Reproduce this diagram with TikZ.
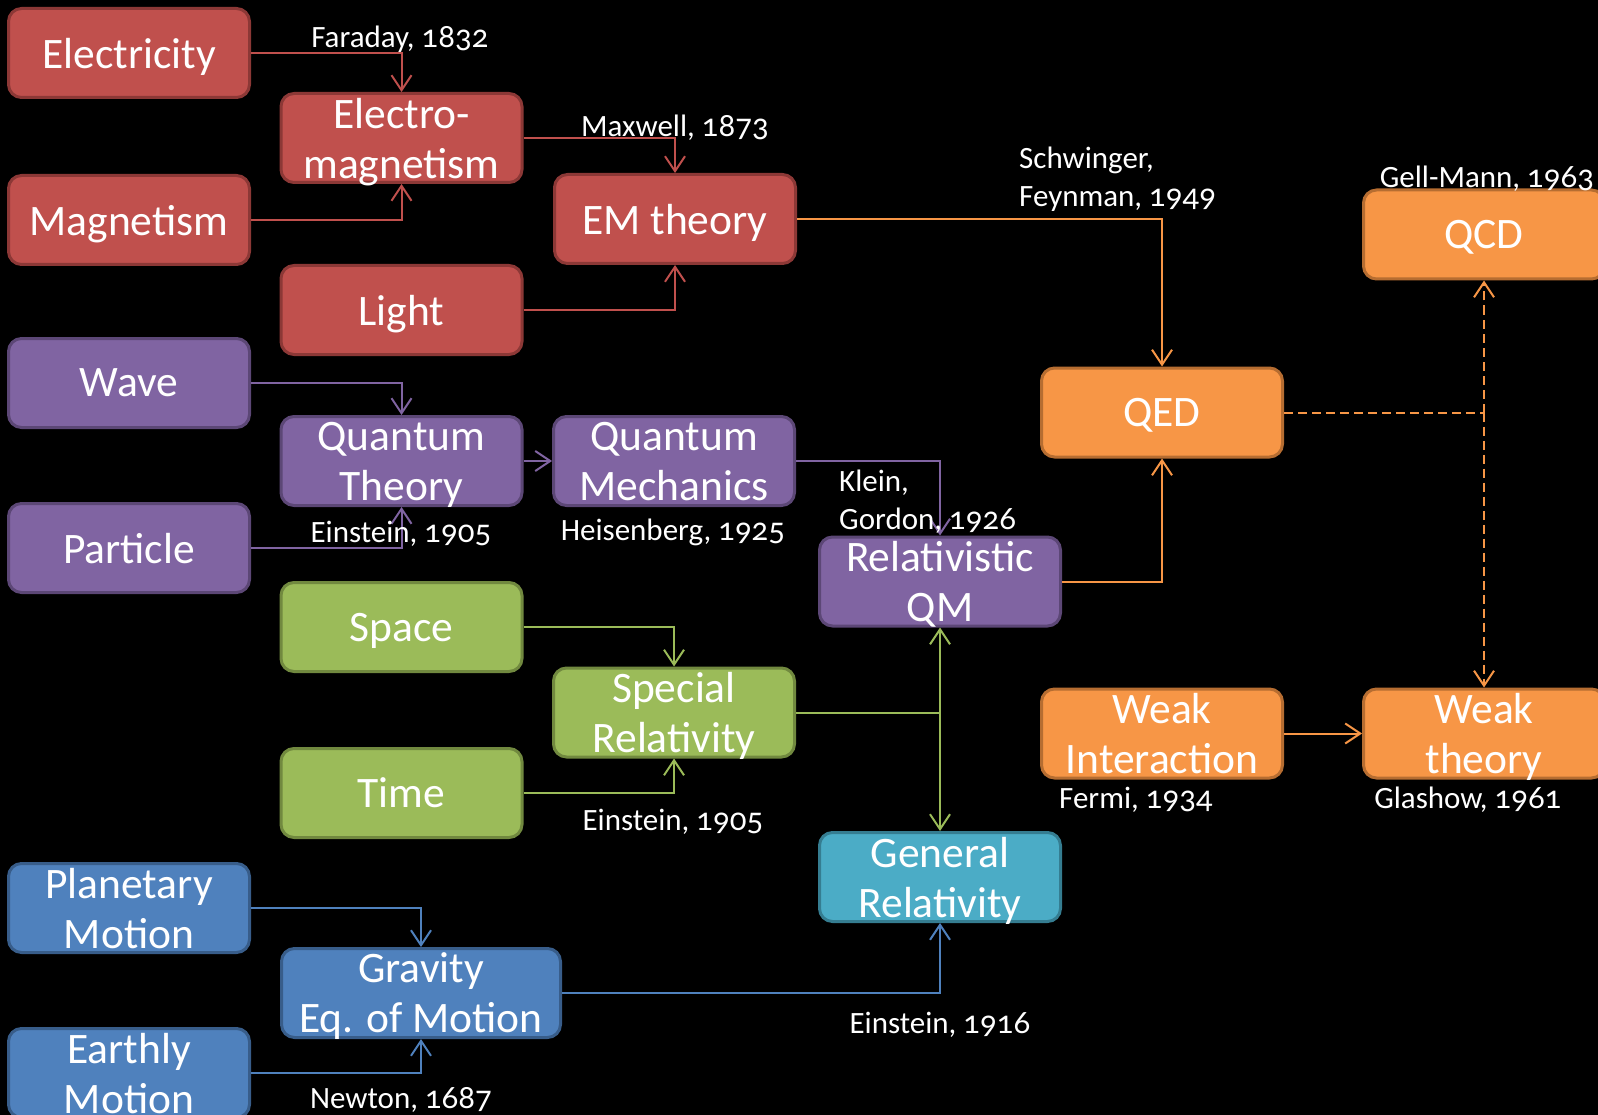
\documentclass[tikz,border=0pt]{standalone}
\usepackage{fontspec}
\setmainfont{Carlito}[Numbers=OldStyle]
\newfontfamily\numfont{Lato}[Numbers=OldStyle]
\newcommand{\yr}[1]{{\numfont #1}}
\usetikzlibrary{arrows.meta}
\definecolor{redF}{HTML}{C0504D}\definecolor{redD}{HTML}{8C3836}
\definecolor{purF}{HTML}{8064A2}\definecolor{purD}{HTML}{5C4776}
\definecolor{grnF}{HTML}{9BBB59}\definecolor{grnD}{HTML}{71893F}
\definecolor{tealF}{HTML}{4BACC6}\definecolor{tealD}{HTML}{357D91}
\definecolor{bluF}{HTML}{4F81BD}\definecolor{bluD}{HTML}{385D8A}
\definecolor{orgF}{HTML}{F79646}\definecolor{orgD}{HTML}{B66D31}
\tikzset{
  box/.style={rounded corners=13pt, line width=3pt, minimum width=241pt, minimum height=89pt,
    inner sep=0pt, text=white, align=center, font=\fontsize{43.5}{50}\selectfont, text depth=0pt},
  redbox/.style={box, fill=redF, draw=redD},
  purbox/.style={box, fill=purF, draw=purD},
  grnbox/.style={box, fill=grnF, draw=grnD},
  tealbox/.style={box, fill=tealF, draw=tealD},
  blubox/.style={box, fill=bluF, draw=bluD},
  orgbox/.style={box, fill=orgF, draw=orgD},
  conn/.style={line width=2pt, -{Straight Barb[length=15pt,width=20pt]}},
  plain/.style={line width=2pt},
  lbl/.style={text=white, font=\fontsize{31}{38}\selectfont, inner sep=0pt, text depth=0pt, align=left},
}
\begin{document}
\begin{tikzpicture}[x=1pt,y=-1pt]
\fill[black] (0,0) rectangle (1598,1115);
\useasboundingbox (0,0) rectangle (1598,1115);
\clip (0,0) rectangle (1598,1115);

% boxes
\node[redbox] (elec) at (129,53) {Electricity};
\node[redbox] (magn) at (129,220) {Magnetism};
\node[redbox] (emag) at (401.5,138) {Electro-\\magnetism};
\node[redbox] (light) at (401.5,310) {Light};
\node[redbox] (emth) at (675,219) {EM theory};
\node[purbox] (wave) at (129,383) {Wave};
\node[purbox] (qt) at (401.5,461) {Quantum\\Theory};
\node[purbox] (qm) at (674,461) {Quantum\\Mechanics};
\node[purbox] (part) at (129,548) {Particle};
\node[purbox] (relqm) at (940,581.5) {Relativistic\\QM};
\node[grnbox] (space) at (401.5,627) {Space};
\node[grnbox] (sr) at (674,712.5) {Special\\Relativity};
\node[grnbox] (time) at (401.5,793) {Time};
\node[tealbox] (gr) at (940,877) {General\\Relativity};
\node[blubox] (plan) at (129,908) {Planetary\\Motion};
\node[blubox, minimum width=279pt] (grav) at (421,993) {Gravity\\Eq. of Motion};
\node[blubox] (earth) at (129,1073) {Earthly\\Motion};
\node[orgbox] (qed) at (1162,412.5) {QED};
\node[orgbox] (qcd) at (1484,234.5) {QCD};
\node[orgbox] (wi) at (1162,733.5) {Weak\\Interaction};
\node[orgbox] (wt) at (1484,733.5) {Weak\\theory};

% connectors
\draw[conn, redF] (elec.east) -| (emag.north);
\draw[conn, redF] (magn.east) -| (emag.south);
\draw[conn, redF] (emag.east) -| (emth.north);
\draw[conn, redF] (light.east) -| (emth.south);
\draw[conn, orgF] (emth.east) -| (qed.north);
\draw[conn, purF] (wave.east) -| (qt.north);
\draw[conn, purF] (part.east) -| (qt.south);
\draw[conn, purF] (qt.east) -- (qm.west);
\draw[conn, purF] (qm.east) -| (relqm.north);
\draw[conn, orgF] (relqm.east) -| (qed.south);
\draw[conn, grnF] (space.east) -| (sr.north);
\draw[conn, grnF] (time.east) -| (sr.south);
\coordinate (jsr) at (relqm.south |- sr.east);
\draw[plain, grnF] (sr.east) -- (jsr);
\draw[conn, grnF] (jsr) -- (relqm.south);
\draw[conn, grnF] (jsr) -- (gr.north);
\draw[conn, bluF] (plan.east) -| (grav.north);
\draw[conn, bluF] (earth.east) -| (grav.south);
\draw[conn, bluF] (grav.east) -| (gr.south);
\draw[conn, orgF] (wi.east) -- (wt.west);
\coordinate (jq) at (qcd.south |- qed.east);
\draw[plain, orgF, dash pattern=on 9pt off 5pt] (qed.east) -- (jq);
\draw[conn, orgF, dash pattern=on 9pt off 5pt] (jq) -- (qcd.south);
\draw[conn, orgF, dash pattern=on 9pt off 5pt] (jq) -- (wt.north);

% labels
\node[lbl] (lfar) at (400,37) {Faraday, \yr{1832}};
\node[lbl] (lmax) at (675,126) {Maxwell, \yr{1873}};
\node[lbl, anchor=west] (lsch) at (1019,177) {Schwinger,\\Feynman, \yr{1949}};
\node[lbl] (lgell) at (1487,177) {Gell-Mann, \yr{1963}};
\node[lbl, anchor=west] (lklein) at (839,500) {Klein,\\Gordon, \yr{1926}};
\node[lbl] (lein1) at (401,532) {Einstein, \yr{1905}};
\node[lbl] (lheis) at (673,530) {Heisenberg, \yr{1925}};
\node[lbl] (lein2) at (673,820) {Einstein, \yr{1905}};
\node[lbl] (lfermi) at (1136,798) {Fermi, \yr{1934}};
\node[lbl] (lglas) at (1468,798) {Glashow, \yr{1961}};
\node[lbl] (lein3) at (940,1023) {Einstein, \yr{1916}};
\node[lbl] (lnew) at (401,1098) {Newton, \yr{1687}};
\end{tikzpicture}
\end{document}
